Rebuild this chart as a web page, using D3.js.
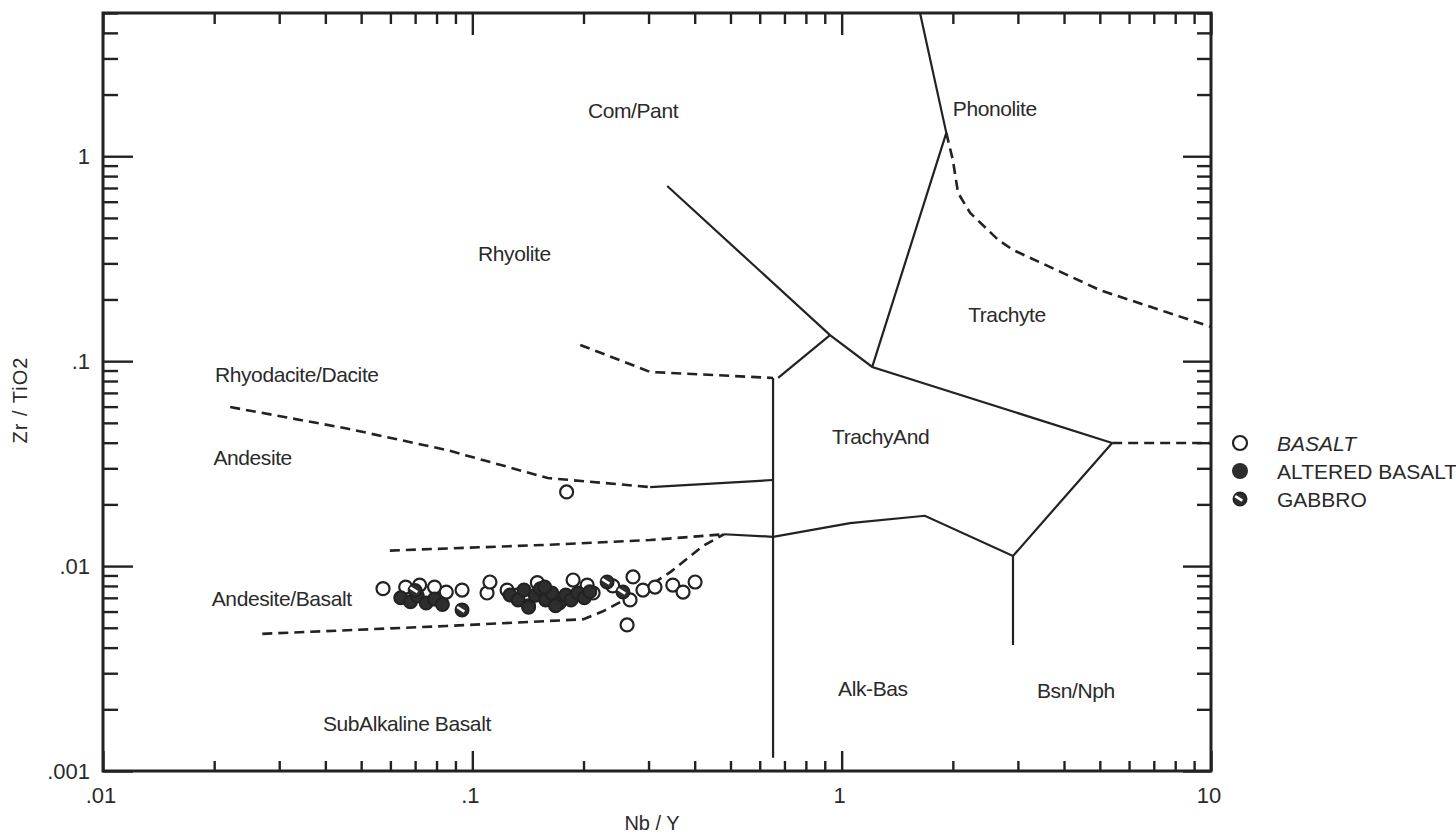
<!DOCTYPE html>
<html>
<head>
<meta charset="utf-8">
<script src="https://cdn.jsdelivr.net/npm/d3@7"></script>
<style>
  body { margin: 0; background: #fff; }
  svg text { font-family: "Liberation Sans", Arial, sans-serif; fill: #2a2a2a; }
  .region { font-size: 21px; letter-spacing: -0.4px; }
  .ticklab { font-size: 22px; }
</style>
</head>
<body>
<svg id="chart" width="1456" height="834"></svg>
<script>
// axis ranges and tick labels
var xDomain = [0.01, 10];
var yDomain = [0.001, 5];
var xTickLabels = [[0.01, ".01"], [0.1, ".1"], [1, "1"], [10, "10"]];
var yTickLabels = [[0.001, ".001"], [0.01, ".01"], [0.1, ".1"], [1, "1"]];

// field boundaries (Nb/Y, Zr/TiO2)
var solidLines = [
    [[1.63, 5], [1.92, 1.30], [1.21, 0.0937]],
    [[0.337, 0.716], [0.93, 0.134], [1.21, 0.0937], [5.4, 0.0399]],
    [[0.93, 0.134], [0.673, 0.0828]],
    [[0.652, 0.0828], [0.652, 0.00116]],
    [[0.303, 0.0243], [0.652, 0.0263]],
    [[0.48, 0.0143], [0.652, 0.0139], [1.054, 0.0162], [1.68, 0.0176], [2.91, 0.0112], [5.4, 0.0399]],
    [[2.91, 0.0112], [2.91, 0.00412]]
];
var dashedLines = [
    [[1.92, 1.30], [2.00, 0.959], [2.066, 0.662], [2.228, 0.529], [2.652, 0.391], [2.91, 0.349], [5.01, 0.222], [10, 0.147]],
    [[5.4, 0.0399], [10, 0.0399]],
    [[0.196, 0.120], [0.303, 0.0886], [0.652, 0.0828]],
    [[0.0221, 0.0597], [0.045, 0.0472], [0.085, 0.0369], [0.16, 0.0269], [0.303, 0.0243]],
    [[0.0598, 0.0119], [0.16, 0.0127], [0.303, 0.0134], [0.48, 0.0143]],
    [[0.027, 0.00467], [0.085, 0.00510], [0.200, 0.00550], [0.225, 0.00600], [0.290, 0.00764], [0.345, 0.0094], [0.42, 0.0125], [0.48, 0.0143]]
];

// region names (left edge, vertical centre)
var regionNames = ["Com/Pant", "Phonolite", "Rhyolite", "Trachyte", "Rhyodacite/Dacite", "TrachyAnd",
    "Andesite", "Andesite/Basalt", "Alk-Bas", "Bsn/Nph", "SubAlkaline Basalt"];
var regionX = [0.2056, 2.00, 0.1036, 2.20, 0.0201, 0.942, 0.0199, 0.0197, 0.978, 3.38, 0.0394];
var regionY = [1.68, 1.72, 0.337, 0.170, 0.0866, 0.0431, 0.0341, 0.00699, 0.00254, 0.00249, 0.00172];

// samples
var basaltX = [0.0573, 0.0660, 0.0720, 0.0790, 0.0850, 0.0938, 0.1096, 0.1116, 0.1242, 0.1321, 0.1874, 0.2046, 0.2123,
    0.2673, 0.2723, 0.2897, 0.3123, 0.349, 0.372, 0.401, 0.2624, 0.180, 0.150, 0.240];
var basaltY = [0.00776, 0.00790, 0.00808, 0.00790, 0.00747, 0.00764, 0.00739, 0.00836, 0.00764, 0.00722, 0.00855, 0.00808, 0.00739,
    0.00684, 0.00885, 0.00764, 0.00790, 0.00808, 0.00747, 0.00836, 0.00516, 0.0230, 0.00830, 0.00800];
var alteredX = [0.0640, 0.0680, 0.0710, 0.0750, 0.0790, 0.0830, 0.1265, 0.1330, 0.1380, 0.1420, 0.1480, 0.1530, 0.1580,
    0.1640, 0.1720, 0.1790, 0.1850, 0.1930, 0.2010, 0.2080, 0.1420, 0.1570, 0.1680];
var alteredY = [0.00700, 0.00670, 0.00715, 0.00660, 0.00690, 0.00650, 0.00722, 0.00684, 0.00764, 0.00640, 0.00720, 0.00776, 0.00684,
    0.00740, 0.00660, 0.00722, 0.00684, 0.00740, 0.00700, 0.00750, 0.00630, 0.00790, 0.00640];
var gabbroX = [0.0938, 0.2317, 0.2558, 0.0700];
var gabbroY = [0.00611, 0.00836, 0.00747, 0.00760];

var legendNames = ["BASALT", "ALTERED BASALT", "GABBRO"];

var margin = { top: 13, right: 245, bottom: 63, left: 103 },
    width = 1456 - margin.left - margin.right,
    height = 834 - margin.top - margin.bottom;

var x = d3.scaleLog().domain(xDomain).range([0, width]),
    y = d3.scaleLog().domain(yDomain).range([height, 0]);

var svg = d3.select("#chart");
var g = svg.append("g").attr("transform", "translate(" + margin.left + "," + margin.top + ")");

function minorTicks(dom) {
    var out = [];
    for (var e = Math.floor(Math.log10(dom[0])); e <= Math.ceil(Math.log10(dom[1])); e++) {
        for (var k = 1; k <= 9; k++) {
            var v = k * Math.pow(10, e);
            if (v >= dom[0] * 0.999 && v <= dom[1] * 1.001) out.push(v);
        }
    }
    return out;
}
var xMajor = xTickLabels.map(function(d) { return d[0]; });
var yMajor = yTickLabels.map(function(d) { return d[0]; });
var xMinor = minorTicks(xDomain).filter(function(v) { return xMajor.indexOf(v) < 0; });
var yMinor = minorTicks(yDomain).filter(function(v) { return yMajor.indexOf(v) < 0; });

function tickAxis(axis, vals, size, transform) {
    var a = g.append("g")
        .attr("transform", transform)
        .call(axis.tickValues(vals).tickSize(size).tickFormat(""));
    a.select(".domain").remove();
    a.selectAll("line").attr("stroke", "#222").attr("stroke-width", 2.4);
}
tickAxis(d3.axisBottom(x), xMinor, -10, "translate(0," + height + ")");
tickAxis(d3.axisBottom(x), xMajor, -20, "translate(0," + height + ")");
tickAxis(d3.axisTop(x), xMinor, -11, "translate(0,0)");
tickAxis(d3.axisTop(x), xMajor, -22, "translate(0,0)");
tickAxis(d3.axisLeft(y), yMinor, -15, "translate(0,0)");
tickAxis(d3.axisLeft(y), yMajor, -30, "translate(0,0)");
tickAxis(d3.axisRight(y), yMinor, -14, "translate(" + width + ",0)");
tickAxis(d3.axisRight(y), yMajor, -28, "translate(" + width + ",0)");

g.append("rect")
    .attr("width", width).attr("height", height)
    .attr("fill", "none").attr("stroke", "#222").attr("stroke-width", 3);

// tick labels
g.selectAll(".xlab").data(xTickLabels).enter().append("text")
    .attr("class", "ticklab")
    .attr("x", function(d) { return x(d[0]) - 2; })
    .attr("y", height + 32)
    .attr("text-anchor", "middle")
    .text(function(d) { return d[1]; });
g.selectAll(".ylab").data(yTickLabels).enter().append("text")
    .attr("class", "ticklab")
    .attr("x", -13)
    .attr("y", function(d) { return y(d[0]) + 8; })
    .attr("text-anchor", "end")
    .text(function(d) { return d[1]; });

svg.append("text").attr("x", 652).attr("y", 830).attr("text-anchor", "middle")
    .style("font-size", "20px").text("Nb / Y");
svg.append("text").attr("transform", "translate(27,400) rotate(-90)").attr("text-anchor", "middle")
    .style("font-size", "20px").style("letter-spacing", "1px").text("Zr / TiO2");

// boundaries
var line = d3.line().x(function(d) { return x(d[0]); }).y(function(d) { return y(d[1]); });
g.selectAll(".solid").data(solidLines).enter().append("path")
    .attr("d", line).attr("fill", "none").attr("stroke", "#222").attr("stroke-width", 2.2);
g.selectAll(".dashed").data(dashedLines).enter().append("path")
    .attr("d", line).attr("fill", "none").attr("stroke", "#222").attr("stroke-width", 2.6)
    .attr("stroke-dasharray", "10,6");

g.selectAll(".region").data(regionNames).enter().append("text")
    .attr("class", "region")
    .attr("x", function(d, i) { return x(regionX[i]); })
    .attr("y", function(d, i) { return y(regionY[i]) + 8; })
    .text(function(d) { return d; });

// samples
var r = 6.5;
function pts(xs, ys) { return xs.map(function(v, i) { return [v, ys[i]]; }); }
function gabbro(sel) {
    sel.append("circle").attr("r", r).attr("fill", "#2e2e2e").attr("stroke", "#222").attr("stroke-width", 2);
    sel.append("line").attr("x1", -r * 0.75).attr("y1", -r * 0.45).attr("x2", r * 0.35).attr("y2", r * 0.25)
        .attr("stroke", "#fff").attr("stroke-width", 2.6);
}
g.selectAll(".bas").data(pts(basaltX, basaltY)).enter().append("circle")
    .attr("cx", function(d) { return x(d[0]); }).attr("cy", function(d) { return y(d[1]); })
    .attr("r", r).attr("fill", "#fff").attr("stroke", "#222").attr("stroke-width", 2.2);
g.selectAll(".alt").data(pts(alteredX, alteredY)).enter().append("circle")
    .attr("cx", function(d) { return x(d[0]); }).attr("cy", function(d) { return y(d[1]); })
    .attr("r", r).attr("fill", "#2e2e2e").attr("stroke", "#222").attr("stroke-width", 2);
g.selectAll(".gab").data(pts(gabbroX, gabbroY)).enter().append("g")
    .attr("transform", function(d) { return "translate(" + x(d[0]) + "," + y(d[1]) + ")"; })
    .call(gabbro);

// legend
var rowH = 28;
var leg = svg.append("g").attr("transform", "translate(1240,443)");
leg.append("circle").attr("cx", 0).attr("cy", 0).attr("r", 7).attr("fill", "#fff").attr("stroke", "#222").attr("stroke-width", 2.2);
leg.append("circle").attr("cx", 0).attr("cy", rowH).attr("r", 8).attr("fill", "#2e2e2e");
leg.append("g").attr("transform", "translate(0," + (2 * rowH) + ")").call(gabbro);
leg.selectAll(".lt").data(legendNames).enter().append("text")
    .attr("x", 37).attr("y", function(d, i) { return i * rowH + 8; })
    .style("font-size", "21px")
    .style("font-style", function(d, i) { return i === 0 ? "italic" : "normal"; })
    .text(function(d) { return d; });
</script>
</body>
</html>
